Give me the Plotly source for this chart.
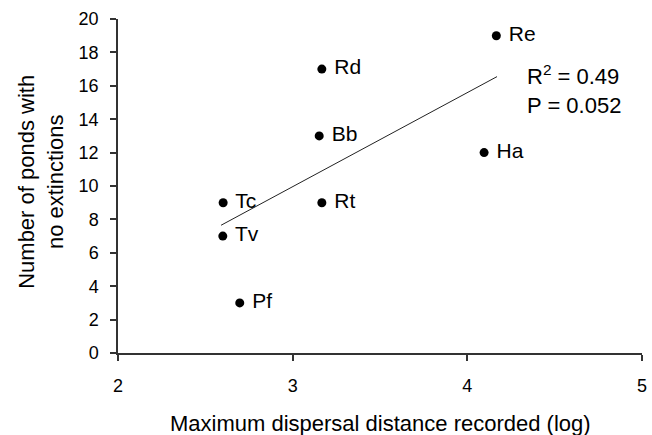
import plotly.graph_objects as go

species = ["Re", "Rd", "Bb", "Ha", "Tc", "Rt", "Tv", "Pf"]
dispersal_log = [4.166, 3.167, 3.152, 4.096, 2.602, 3.167, 2.600, 2.697]
ponds_no_ext = [19, 17, 13, 12, 9, 9, 7, 3]

trend_x = [2.59, 4.17]
trend_y = [7.65, 16.55]

x_ticks = [2, 3, 4, 5]
y_ticks = list(range(0, 21, 2))

stats_text = "R<sup>2</sup> = 0.49<br>P = 0.052"

FONT = "Liberation Sans, Arial, sans-serif"

fig = go.Figure()
fig.add_trace(go.Scatter(
    x=trend_x, y=trend_y, mode="lines",
    line=dict(color="#222222", width=1), hoverinfo="skip", showlegend=False))
fig.add_trace(go.Scatter(
    x=dispersal_log, y=ponds_no_ext, mode="markers+text",
    text=[" " + s for s in species], textposition="middle right",
    textfont=dict(family=FONT, size=21, color="black"),
    marker=dict(color="black", size=9), showlegend=False))

fig.add_annotation(x=4.33, y=15.78, xref="x", yref="y", text=stats_text,
                   showarrow=False, xanchor="left", yanchor="middle", align="left",
                   font=dict(family=FONT, size=22, color="black"))

fig.add_annotation(x=-0.146, y=0.514, xref="paper", yref="paper",
                   text="Number of ponds with<br>no extinctions", textangle=-90,
                   showarrow=False, xanchor="center", yanchor="middle",
                   font=dict(family=FONT, size=22, color="black"))
fig.add_annotation(x=0.5, y=-0.2105, xref="paper", yref="paper",
                   text="Maximum dispersal distance recorded (log)",
                   showarrow=False, xanchor="center", yanchor="middle",
                   font=dict(family=FONT, size=22, color="black"))

axis_common = dict(showgrid=False, zeroline=False, showline=True, linecolor="#333333",
                   linewidth=1.5, ticks="outside", tickcolor="#333333", ticklen=6,
                   tickwidth=1.5, tickfont=dict(family=FONT, size=18, color="black"))

fig.update_layout(
    width=652, height=435,
    margin=dict(l=117.5, r=10, t=18.7, b=82.3, autoexpand=False),
    plot_bgcolor="white", paper_bgcolor="white",
    xaxis=dict(range=[2, 5], tickvals=x_ticks, **axis_common),
    yaxis=dict(range=[0, 20], tickvals=y_ticks, **axis_common),
)
fig.update_xaxes(ticklabelstandoff=10)
fig.update_yaxes(ticklabelstandoff=8)

fig.write_html(
    "out.html",
    config={"displayModeBar": False},
    post_script="document.body.style.margin='0';document.body.style.overflow='hidden';",
)
